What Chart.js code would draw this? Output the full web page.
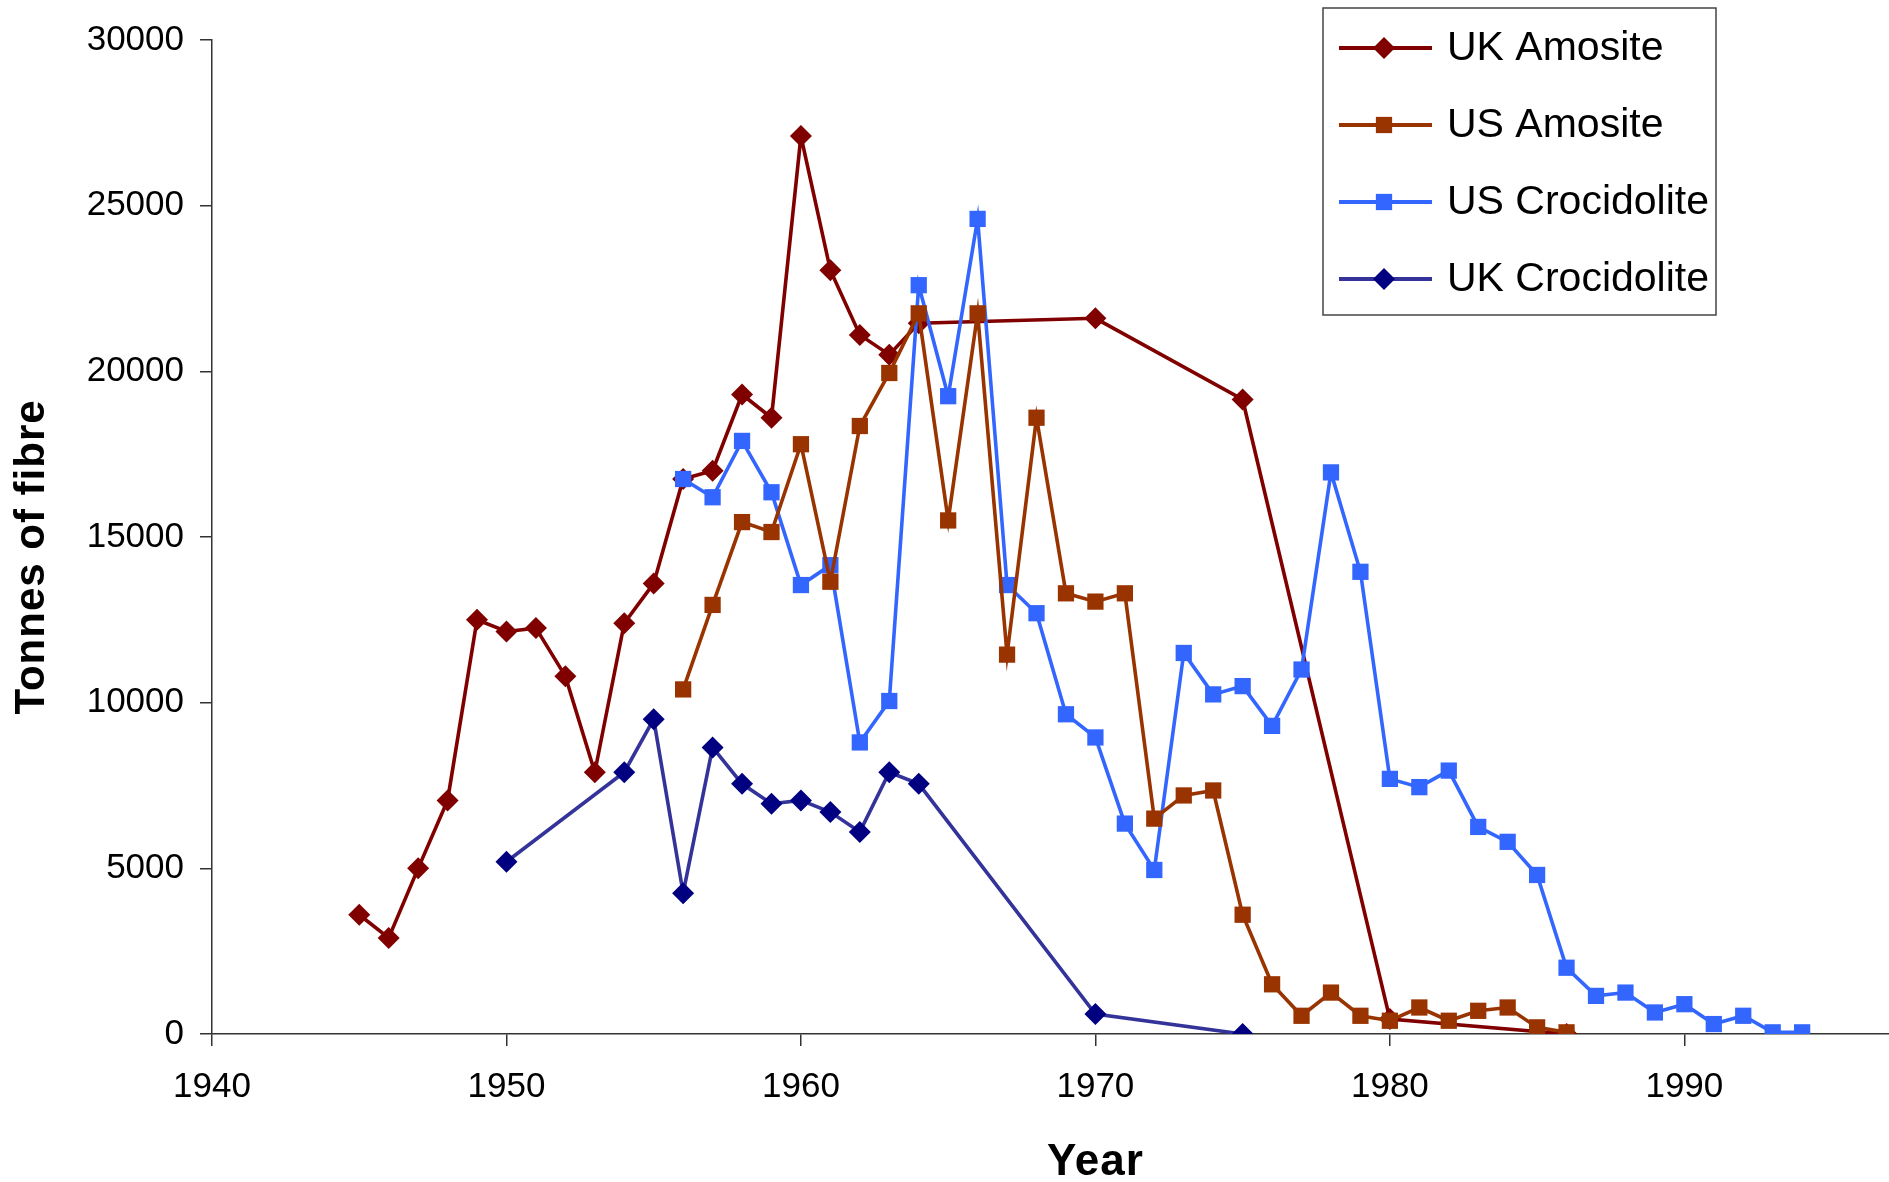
<!DOCTYPE html>
<html>
<head>
<meta charset="utf-8">
<title>Amosite and crocidolite fibre</title>
<script src="https://cdn.jsdelivr.net/npm/chart.js@4.4.1/dist/chart.umd.min.js"></script>
<style>
  html, body { margin: 0; padding: 0; background: #fff; overflow: hidden; }
  #chart { display: block; }
</style>
</head>
<body>
<canvas id="chart" width="1889" height="1182"></canvas>
<script>
// Tonnes of fibre per year, one pair of arrays per series
const ukAmositeYears = [1945, 1946, 1947, 1948, 1949, 1950, 1951, 1952, 1953, 1954, 1955, 1956, 1957, 1958, 1959, 1960, 1961, 1962, 1963, 1964, 1970, 1975, 1980, 1986];
const ukAmositeTonnes = [3600, 2900, 5000, 7050, 12500, 12150, 12250, 10800, 7900, 12400, 13600, 16750, 17000, 19300, 18600, 27100, 23050, 21100, 20500, 21450, 21600, 19150, 450, 0];

const usAmositeYears = [1956, 1957, 1958, 1959, 1960, 1961, 1962, 1963, 1964, 1965, 1966, 1967, 1968, 1969, 1970, 1971, 1972, 1973, 1974, 1975, 1976, 1977, 1978, 1979, 1980, 1981, 1982, 1983, 1984, 1985, 1986];
const usAmositeTonnes = [10400, 12950, 15450, 15150, 17800, 13650, 18350, 19950, 21750, 15500, 21750, 11450, 18600, 13300, 13050, 13300, 6500, 7200, 7350, 3600, 1500, 550, 1250, 550, 400, 800, 400, 700, 800, 200, 50];

const usCrocidoliteYears = [1956, 1957, 1958, 1959, 1960, 1961, 1962, 1963, 1964, 1965, 1966, 1967, 1968, 1969, 1970, 1971, 1972, 1973, 1974, 1975, 1976, 1977, 1978, 1979, 1980, 1981, 1982, 1983, 1984, 1985, 1986, 1987, 1988, 1989, 1990, 1991, 1992, 1993, 1994];
const usCrocidoliteTonnes = [16750, 16200, 17900, 16350, 13550, 14150, 8800, 10050, 22600, 19250, 24600, 13550, 12700, 9650, 8950, 6350, 4950, 11500, 10250, 10500, 9300, 11000, 16950, 13950, 7700, 7450, 7950, 6250, 5800, 4800, 2000, 1150, 1250, 650, 900, 300, 550, 50, 50];

const ukCrocidoliteYears = [1950, 1954, 1955, 1956, 1957, 1958, 1959, 1960, 1961, 1962, 1963, 1964, 1970, 1975];
const ukCrocidoliteTonnes = [5200, 7900, 9500, 4250, 8650, 7550, 6950, 7050, 6700, 6100, 7900, 7550, 600, 0];

const seriesNames = ['UK Amosite', 'US Amosite', 'US Crocidolite', 'UK Crocidolite'];
const yearTicks = [1940, 1950, 1960, 1970, 1980, 1990];
const tonneTicks = [0, 5000, 10000, 15000, 20000, 25000, 30000];
const xTitle = 'Year';
const yTitle = 'Tonnes of fibre';

const FONT = '"Liberation Sans", Arial, Helvetica, sans-serif';

const toPoints = (years, tonnes) => years.map((x, i) => ({ x, y: tonnes[i] }));

function series(label, years, tonnes, line, marker, shape, radius, order) {
  return {
    label,
    data: toPoints(years, tonnes),
    borderColor: line,
    backgroundColor: marker,
    borderWidth: 3.6,
    pointStyle: shape,
    pointRadius: radius,
    pointBorderWidth: 0,
    pointBackgroundColor: marker,
    pointBorderColor: marker,
    tension: 0,
    order,
  };
}

const datasets = [
  series(seriesNames[0], ukAmositeYears, ukAmositeTonnes, '#800000', '#800000', 'rectRot', 11, 4),
  series(seriesNames[1], usAmositeYears, usAmositeTonnes, '#993300', '#993300', 'rect', 11.5, 2),
  series(seriesNames[2], usCrocidoliteYears, usCrocidoliteTonnes, '#3366FF', '#3366FF', 'rect', 11.5, 3),
  series(seriesNames[3], ukCrocidoliteYears, ukCrocidoliteTonnes, '#333399', '#000080', 'rectRot', 11, 1),
];

// axis titles and the boxed legend with line + marker samples
const decorations = {
  id: 'decorations',
  afterDraw(chart) {
    const { ctx, scales: { x } } = chart;
    ctx.save();
    ctx.fillStyle = '#000';
    ctx.textAlign = 'center';
    ctx.textBaseline = 'middle';

    ctx.font = 'bold 44px ' + FONT;
    ctx.letterSpacing = '1px';
    ctx.fillText(xTitle, x.getPixelForValue(1970), x.bottom - 19);

    ctx.font = 'bold 42px ' + FONT;
    ctx.translate(32, 557);
    ctx.rotate(-Math.PI / 2);
    ctx.fillText(yTitle, 0, 0);
    ctx.setTransform(1, 0, 0, 1, 0, 0);
    ctx.letterSpacing = '0px';

    // legend
    const box = { left: 1323, top: 8, width: 393, height: 307 };
    ctx.strokeStyle = '#444';
    ctx.lineWidth = 1.5;
    ctx.strokeRect(box.left, box.top, box.width, box.height);

    ctx.font = '41px ' + FONT;
    ctx.textAlign = 'left';
    chart.data.datasets.forEach((ds, i) => {
      const cy = 48 + i * 77;
      ctx.strokeStyle = ds.borderColor;
      ctx.lineWidth = 4;
      ctx.beginPath();
      ctx.moveTo(1339, cy);
      ctx.lineTo(1432, cy);
      ctx.stroke();
      ctx.fillStyle = ds.pointBackgroundColor;
      ctx.strokeStyle = ds.pointBackgroundColor;
      Chart.helpers.drawPoint(ctx, { pointStyle: ds.pointStyle, radius: ds.pointRadius, rotation: 0, borderWidth: 0 }, 1384, cy);
      ctx.fillStyle = '#000';
      ctx.fillText(ds.label, 1447, cy + 1);
    });
    ctx.restore();
  }
};

const axisGrid = { drawOnChartArea: false, drawTicks: true, tickLength: 12, color: '#333', lineWidth: 1.5 };
const axisBorder = { color: '#333', width: 1.5 };
const tickFont = { family: FONT, size: 35 };

new Chart(document.getElementById('chart'), {
  type: 'line',
  data: { datasets },
  plugins: [decorations],
  options: {
    responsive: false,
    animation: false,
    events: [],
    layout: { autoPadding: false, padding: { top: 40, right: 0, bottom: 0, left: 0 } },
    plugins: { legend: { display: false }, tooltip: { enabled: false } },
    scales: {
      x: {
        type: 'linear',
        min: 1940,
        max: 1996.95,
        afterBuildTicks: axis => { axis.ticks = yearTicks.map(value => ({ value })); },
        afterFit: scale => { scale.height = 148; scale.paddingLeft = 0; scale.paddingRight = 0; },
        ticks: { color: '#000', font: tickFont, padding: 20, maxRotation: 0, autoSkip: false, callback: v => String(v) },
        grid: axisGrid,
        border: axisBorder,
      },
      y: {
        type: 'linear',
        min: 0,
        max: 30000,
        afterBuildTicks: axis => { axis.ticks = tonneTicks.map(value => ({ value })); },
        afterFit: scale => { scale.width = 212; },
        ticks: { color: '#000', font: tickFont, padding: 16, callback: v => String(v) },
        grid: axisGrid,
        border: axisBorder,
      },
    },
  },
});
</script>
</body>
</html>
